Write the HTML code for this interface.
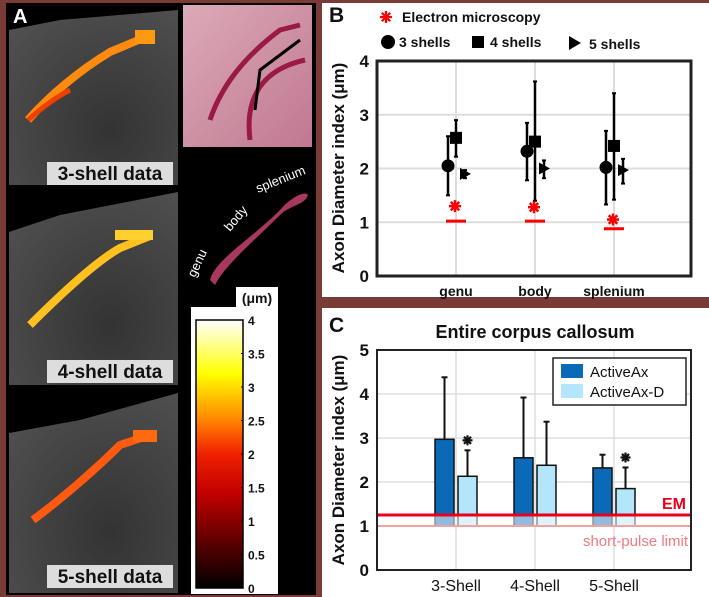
<!DOCTYPE html>
<html><head><meta charset="utf-8"><style>
html,body{margin:0;padding:0;background:#7a3b36;}
svg{display:block;font-family:"Liberation Sans",sans-serif;}
</style></head><body>
<svg id="fig" width="709" height="597" viewBox="0 0 709 597" xmlns="http://www.w3.org/2000/svg">
<defs>
<linearGradient id="hot" x1="0" y1="1" x2="0" y2="0">
<stop offset="0" stop-color="#000"/><stop offset="0.35" stop-color="#c00000"/><stop offset="0.5" stop-color="#f02000"/><stop offset="0.62" stop-color="#ff8000"/><stop offset="0.8" stop-color="#ffff00"/><stop offset="1" stop-color="#ffffff"/>
</linearGradient>
<radialGradient id="mri" cx="0.6" cy="0.7" r="0.8"><stop offset="0" stop-color="#333"/><stop offset="1" stop-color="#505050"/></radialGradient>
<linearGradient id="hist" x1="0" y1="0" x2="1" y2="1"><stop offset="0" stop-color="#dcaab8"/><stop offset="1" stop-color="#c07890"/></linearGradient>
</defs>
<rect x="0" y="0" width="709" height="597" fill="#7a3b36"/>
<g>
<rect x="6" y="3" width="310" height="592" fill="#000"/>
<g>
<rect x="9" y="4" width="169" height="181" fill="url(#mri)"/>
<polygon points="9,4 178,4 178,10 60,20 9,30" fill="#000"/>
<path d="M28,120 C50,95 80,70 110,52 L148,36" stroke="#ff8a10" stroke-width="8" fill="none"/>
<rect x="135" y="30" width="20" height="14" fill="#ff9a10"/>
<path d="M28,120 C45,105 60,95 70,90" stroke="#f04000" stroke-width="5" fill="none"/>
<rect x="47" y="162" width="126" height="23" fill="#ddd"/>
<text x="110" y="180" text-anchor="middle" font-size="19" font-weight="bold" fill="#111">3-shell data</text>
</g>
<g>
<rect x="9" y="188" width="169" height="197" fill="url(#mri)"/>
<polygon points="9,188 178,188 178,192 60,215 9,232" fill="#000"/>
<path d="M30,325 C60,295 95,262 120,248 L150,236" stroke="#ffc020" stroke-width="8" fill="none"/>
<rect x="115" y="230" width="38" height="10" fill="#ffd030"/>
<rect x="47" y="360" width="126" height="23" fill="#ddd"/>
<text x="110" y="378" text-anchor="middle" font-size="19" font-weight="bold" fill="#111">4-shell data</text>
</g>
<g>
<rect x="9" y="390" width="169" height="203" fill="url(#mri)"/>
<polygon points="9,390 178,390 178,393 80,420 9,433" fill="#000"/>
<path d="M33,520 C60,500 95,470 120,445 L153,434" stroke="#ff5a10" stroke-width="8" fill="none"/>
<rect x="133" y="430" width="24" height="12" fill="#ff6a10"/>
<rect x="47" y="565" width="126" height="23" fill="#ddd"/>
<text x="110" y="583" text-anchor="middle" font-size="19" font-weight="bold" fill="#111">5-shell data</text>
</g>
<text x="13" y="23" font-size="20" font-weight="bold" fill="#fff">A</text>
<g>
<rect x="183" y="5" width="129" height="142" fill="url(#hist)"/>
<path d="M210,120 C220,90 240,60 280,30 L300,25" stroke="#9a1a45" stroke-width="5" fill="none"/>
<path d="M250,140 C245,100 260,70 305,60" stroke="#9a1a45" stroke-width="5" fill="none"/>
<path d="M255,110 L260,70 L300,40" stroke="#000" stroke-width="3" fill="none"/>
</g>
<g>
<path d="M210,280 C215,260 250,240 280,210 C290,198 305,190 308,195 C305,205 290,205 280,215 C255,240 225,265 215,285 Z" fill="#a8385f"/>
<text x="195" y="278" font-size="13" fill="#fff" transform="rotate(-65 195 278)">genu</text>
<text x="230" y="232" font-size="13" fill="#fff" transform="rotate(-50 230 232)">body</text>
<text x="258" y="193" font-size="13" fill="#fff" transform="rotate(-22 258 193)">splenium</text>
</g>
<g>
<rect x="236" y="287" width="42" height="20" fill="#fff"/>
<text x="257" y="303" text-anchor="middle" font-size="14" font-weight="bold" fill="#111">(μm)</text>
<rect x="191" y="307" width="87" height="287" fill="#fff"/>
<rect x="196" y="320" width="47" height="268" fill="url(#hot)" stroke="#000" stroke-width="1.5"/>
<g id="cbticks"></g>
</g>
</g>
<rect x="322" y="3" width="387" height="294" fill="#fff"/>
<g id="panelB">
<text x="329" y="22" font-size="21" font-weight="bold" fill="#111">B</text>
<g id="legB">
<text x="402" y="22" font-size="14" font-weight="bold" fill="#111">Electron microscopy</text>
<circle cx="388" cy="42" r="7" fill="#000"/><text x="399" y="47" font-size="14" font-weight="bold" fill="#111">3 shells</text>
<rect x="472" y="36" width="12" height="12" fill="#000"/><text x="490" y="47" font-size="14" font-weight="bold" fill="#111">4 shells</text>
<polygon points="569,36 581,43 569,50" fill="#000"/><text x="589" y="49" font-size="14" font-weight="bold" fill="#111">5 shells</text>
</g>
<text transform="translate(344 168) rotate(-90)" text-anchor="middle" font-size="17" font-weight="bold" fill="#111">Axon Diameter index (μm)</text>
</g>
<rect x="322" y="308" width="387" height="289" fill="#fff"/>
<g id="panelC">
<text x="329" y="332" font-size="21" font-weight="bold" fill="#111">C</text>
<text x="535" y="338" text-anchor="middle" font-size="18" font-weight="bold" fill="#111">Entire corpus callosum</text>
<text transform="translate(344 460) rotate(-90)" text-anchor="middle" font-size="17" font-weight="bold" fill="#111">Axon Diameter index (μm)</text>
</g>
</svg>
<script>
const cbTicks = [0,0.5,1,1.5,2,2.5,3,3.5,4];
const regions = ["genu","body","splenium"];
const shell3 = [2.05,2.32,2.02], shell3Lo=[1.5,1.78,1.33], shell3Hi=[2.6,2.85,2.7];
const shell4 = [2.57,2.5,2.42], shell4Lo=[2.22,1.4,1.42], shell4Hi=[2.9,3.62,3.4];
const shell5 = [1.9,2.0,1.97], shell5Lo=[1.82,1.82,1.72], shell5Hi=[1.97,2.15,2.18];
const emStar = [1.3,1.28,1.05];
const emLine = [1.02,1.02,0.88];
const bTicks = [0,1,2,3,4];
const shellCats = ["3-Shell","4-Shell","5-Shell"];
const activeAx = [2.97,2.55,2.32], activeAxErr=[4.38,3.92,2.62];
const activeAxD = [2.13,2.38,1.85], activeAxDErr=[2.72,3.37,2.33];
const sigStar = [true,false,true];
const emValue = 1.25, shortPulse = 1.0;
const cTicks = [0,1,2,3,4,5];

const NS="http://www.w3.org/2000/svg";
function mk(p,tag,at,txt){const e=document.createElementNS(NS,tag);for(const k in at)e.setAttribute(k,at[k]);if(txt!=null)e.textContent=txt;p.appendChild(e);return e;}
function star(p,cx,cy,r,col,w){for(let k=0;k<4;k++){const a=k*Math.PI/4;mk(p,'line',{x1:cx-r*Math.cos(a),y1:cy-r*Math.sin(a),x2:cx+r*Math.cos(a),y2:cy+r*Math.sin(a),stroke:col,'stroke-width':w});}}

star(document.getElementById('legB'),386,17,6,'#f00',2.2);

const cb=document.getElementById('cbticks');
const cbY=v=>588-v/4*268;
cbTicks.forEach(v=>{
 const t=mk(cb,'text',{x:248,y:cbY(v)+5,'font-size':12,'font-weight':'bold',fill:'#111'},String(v));
 
 
 mk(cb,'line',{x1:243,x2:241,y1:cbY(v),y2:cbY(v),stroke:'#000'});
});

const B=document.getElementById('panelB');
const bx0=377,bx1=691,by0=276,by1=61;
const bY=v=>by0-v/4*(by0-by1);
const bX=i=>[456,535,614][i];
bTicks.forEach(v=>{
 mk(B,'line',{x1:bx0,x2:bx1,y1:bY(v),y2:bY(v),stroke:'#ddd','stroke-width':2});
 const t=mk(B,'text',{x:bx0-8,y:bY(v)+6,'text-anchor':'end','font-size':17,'font-weight':'bold',fill:'#111'},String(v));
 
 
});
regions.forEach((r,i)=>{
 mk(B,'line',{x1:bX(i),x2:bX(i),y1:by0,y2:by1,stroke:'#ddd','stroke-width':2});
 const t=mk(B,'text',{x:bX(i),y:296,'text-anchor':'middle','font-size':14,'font-weight':'bold',fill:'#111'},r);
 
 
});
mk(B,'rect',{x:bx0,y:by1,width:bx1-bx0,height:by0-by1,fill:'none',stroke:'#222','stroke-width':3});
regions.forEach((r,i)=>{
 const x=bX(i);
 const g=mk(B,'g',{});
 
 
 const eb=(xx,lo,hi)=>{mk(g,'line',{x1:xx,x2:xx,y1:bY(lo),y2:bY(hi),stroke:'#000','stroke-width':2.5});
  mk(g,'line',{x1:xx-2,x2:xx+2,y1:bY(lo),y2:bY(lo),stroke:'#000','stroke-width':2});mk(g,'line',{x1:xx-2,x2:xx+2,y1:bY(hi),y2:bY(hi),stroke:'#000','stroke-width':2});};
 const x3=x-8,x4=x+0,x5=x+9;
 eb(x3,shell3Lo[i],shell3Hi[i]); mk(g,'circle',{cx:x3,cy:bY(shell3[i]),r:6.5,fill:'#000'});
 eb(x4,shell4Lo[i],shell4Hi[i]); mk(g,'rect',{x:x4-6,y:bY(shell4[i])-6,width:12,height:12,fill:'#000'});
 eb(x5,shell5Lo[i],shell5Hi[i]); mk(g,'polygon',{points:`${x5-5},${bY(shell5[i])-6} ${x5+6},${bY(shell5[i])} ${x5-5},${bY(shell5[i])+6}`,fill:'#000'});
 mk(g,'line',{x1:x-10,x2:x+10,y1:bY(emLine[i]),y2:bY(emLine[i]),stroke:'#f00','stroke-width':3});
 star(g,x-1,bY(emStar[i]),6,'#f00',2.5);
});

const C=document.getElementById('panelC');
const cx0=377,cx1=691,cy0=570,cy1=350;
const cY=v=>cy0-v/5*(cy0-cy1);
const cX=i=>[456,535,614][i];
cTicks.forEach(v=>{
 mk(C,'line',{x1:cx0,x2:cx1,y1:cY(v),y2:cY(v),stroke:'#ddd','stroke-width':1.5});
 const t=mk(C,'text',{x:cx0-8,y:cY(v)+6,'text-anchor':'end','font-size':17,'font-weight':'bold',fill:'#111'},String(v));
 
 
});
shellCats.forEach((c,i)=>{
 mk(C,'line',{x1:cX(i),x2:cX(i),y1:cy0,y2:cy1,stroke:'#ddd','stroke-width':1.5});
 const t=mk(C,'text',{x:cX(i),y:591,'text-anchor':'middle','font-size':16,fill:'#111'},c);
 
 
});
shellCats.forEach((c,i)=>{
 const xd=cX(i)-21,xl=cX(i)+2,w=19;
 const base=cY(shortPulse);
 const b1=mk(C,'rect',{x:xd,y:cY(activeAx[i]),width:w,height:base-cY(activeAx[i]),fill:'#0a6ab8',stroke:'#111','stroke-width':1.5});
 
 
 mk(C,'line',{x1:xd+w/2,x2:xd+w/2,y1:cY(activeAx[i]),y2:cY(activeAxErr[i]),stroke:'#111','stroke-width':2});
 mk(C,'line',{x1:xd+w/2-3,x2:xd+w/2+3,y1:cY(activeAxErr[i]),y2:cY(activeAxErr[i]),stroke:'#111','stroke-width':2});
 const b2=mk(C,'rect',{x:xl,y:cY(activeAxD[i]),width:w,height:base-cY(activeAxD[i]),fill:'#b3e6fa',stroke:'#111','stroke-width':1.5});
 
 
 mk(C,'line',{x1:xl+w/2,x2:xl+w/2,y1:cY(activeAxD[i]),y2:cY(activeAxDErr[i]),stroke:'#111','stroke-width':2});
 mk(C,'line',{x1:xl+w/2-3,x2:xl+w/2+3,y1:cY(activeAxDErr[i]),y2:cY(activeAxDErr[i]),stroke:'#111','stroke-width':2});
 if(sigStar[i]) star(C,xl+w/2,cY(activeAxDErr[i])-10,5,'#111',2.2);
});
mk(C,'rect',{x:cx0+2,y:cY(emValue),width:cx1-cx0-4,height:cY(shortPulse)-cY(emValue)+1,fill:'#fff','fill-opacity':0.55});
const em=mk(C,'line',{x1:cx0,x2:cx1,y1:cY(emValue),y2:cY(emValue),stroke:'#e8001c','stroke-width':3});


const sp=mk(C,'line',{x1:cx0,x2:cx1,y1:cY(shortPulse),y2:cY(shortPulse),stroke:'#f2a0a0','stroke-width':2});


mk(C,'text',{x:686,y:cY(emValue)-6,'text-anchor':'end','font-size':16,'font-weight':'bold',fill:'#e8001c'},'EM');
mk(C,'text',{x:688,y:cY(shortPulse)+20,'text-anchor':'end','font-size':15,fill:'#f07a80'},'short-pulse limit');
mk(C,'rect',{x:cx0,y:cy1,width:cx1-cx0,height:cy0-cy1,fill:'none',stroke:'#222','stroke-width':2});
const lg=mk(C,'g',{});


mk(lg,'rect',{x:553,y:358,width:133,height:47,fill:'#fff',stroke:'#222','stroke-width':1.5});
mk(lg,'rect',{x:561,y:364,width:22,height:14,fill:'#0a6ab8'});
mk(lg,'text',{x:590,y:377,'font-size':15,fill:'#111'},'ActiveAx');
mk(lg,'rect',{x:561,y:384,width:22,height:14,fill:'#b3e6fa'});
mk(lg,'text',{x:590,y:397,'font-size':15,fill:'#111'},'ActiveAx-D');
</script>
</body></html>
